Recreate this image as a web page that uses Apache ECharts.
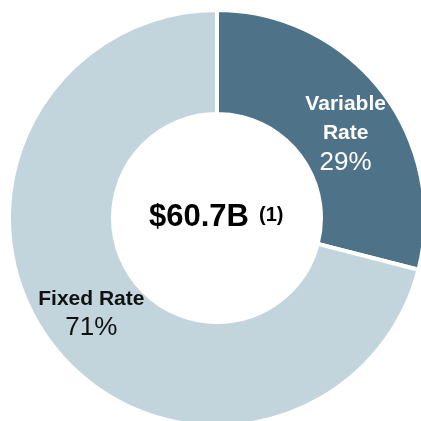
<!DOCTYPE html>
<html>
<head>
<meta charset="utf-8">
<script src="https://cdn.jsdelivr.net/npm/echarts@6/dist/echarts.min.js"></script>
<style>
html,body{margin:0;padding:0;background:#fff;}
#chart{width:421px;height:421px;}
</style>
</head>
<body>
<div id="chart"></div>
<script>
const categories = ['Variable\nRate', 'Fixed Rate'];
const shares = [29, 71];
const sliceColors = ['#4E7388', '#C3D5DC'];
const labelColors = ['#ffffff', '#111111'];
const totalText = '$60.7B';
const footnoteText = '(1)';

const FONT = "'Liberation Sans', Arial, sans-serif";
const chart = echarts.init(document.getElementById('chart'), null, {renderer: 'canvas'});
chart.setOption({
  animation: false,
  backgroundColor: '#ffffff',
  series: [{
    type: 'pie',
    center: [217, 218],
    radius: [104, 208],
    startAngle: 90,
    clockwise: true,
    avoidLabelOverlap: false,
    emphasis: {disabled: true},
    itemStyle: {borderColor: '#ffffff', borderWidth: 4},
    label: {
      show: true,
      position: 'inside',
      fontFamily: FONT
    },
    labelLayout: p => (p.dataIndex === 0 ? {dx: 3, dy: 13} : {dy: -2}),
    labelLine: {show: false},
    data: categories.map((c, i) => ({
      name: c,
      value: shares[i],
      itemStyle: {color: sliceColors[i]},
      label: {
        color: labelColors[i],
        formatter: p => '{n|' + p.name + '}\n{v|' + p.value + '%}',
        rich: {
          n: {color: labelColors[i], fontFamily: FONT, fontWeight: 'bold', fontSize: 21, lineHeight: 29},
          v: {color: labelColors[i], fontFamily: FONT, fontSize: 26, lineHeight: 29}
        }
      }
    }))
  }],
  graphic: [
    {type: 'text', left: 149, top: 202, style: {text: totalText, font: 'bold 31px ' + FONT, fill: '#000'}},
    {type: 'text', left: 259, top: 205, style: {text: footnoteText, font: 'bold 20px ' + FONT, fill: '#000'}}
  ]
});
</script>
</body>
</html>
